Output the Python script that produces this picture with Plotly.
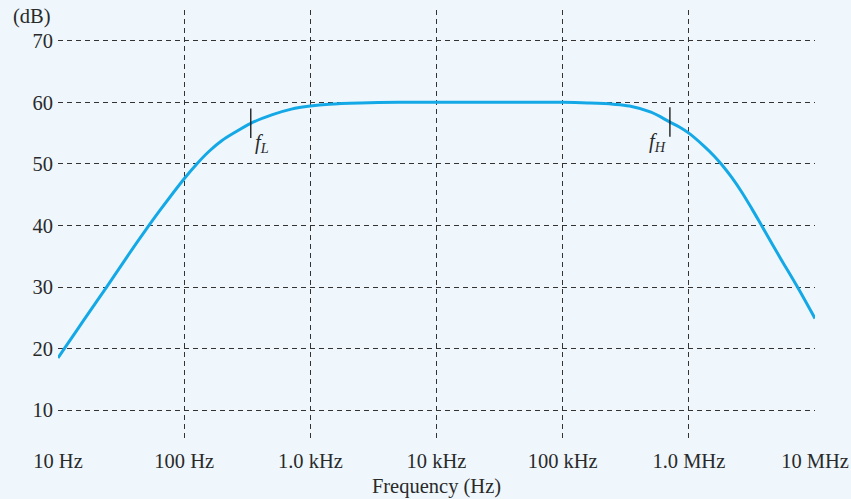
import math
import plotly.graph_objects as go

# Frequency response (Hz, dB)
freq_hz = [10, 11.22, 15.85, 24.27, 35.48, 50.12, 63.97, 100, 125.9, 158.5, 199.5,
           251.2, 337.3, 501.2, 707.9, 1000, 1413, 2512, 5012, 10000, 31623,
           100000, 158489, 251189, 338844, 501187, 707946, 841395, 1000000,
           1318257, 1584893, 1819701, 2187762, 2630268, 3162278, 3723917,
           5248075, 7261490, 10000000]
gain_db = [18.5, 20.0, 24.5, 30.0, 35.0, 39.4, 42.4, 47.6, 50.0, 52.1, 53.8,
           55.1, 56.6, 58.0, 58.9, 59.4, 59.7, 59.9, 60.0, 60.0, 60.0,
           60.0, 59.9, 59.7, 59.4, 58.4, 56.8, 56.0, 55.0,
           52.9, 51.3, 49.9, 47.8, 45.4, 42.7, 40.2,
           34.9, 30.0, 24.9]

x_tickvals = [10, 100, 1000, 10000, 100000, 1000000, 10000000]
x_ticktext = ["10 Hz", "100 Hz", "1.0 kHz", "10 kHz", "100 kHz", "1.0 MHz", "10 MHz"]
y_tickvals = [10, 20, 30, 40, 50, 60, 70]

f_L, f_L_db = 337.3, 56.6
f_H, f_H_db = 707946, 56.8

FONT = "Liberation Serif"
FS = 20.5
BG = "#eff7fd"
GRID = "#333333"
TXT = "#2a2a2a"

fig = go.Figure()
fig.add_trace(go.Scatter(
    x=freq_hz, y=gain_db, mode="lines",
    line=dict(color="#14a9e6", width=3, shape="spline", smoothing=1.0),
    hoverinfo="skip", showlegend=False))
fig.add_trace(go.Scatter(
    x=[f_L, f_H], y=[f_L_db, f_H_db], mode="markers",
    marker=dict(symbol="line-ns", size=21, line=dict(color="#111111", width=1.3)),
    hoverinfo="skip", showlegend=False))

fig.add_annotation(x=math.log10(f_L), y=f_L_db, xref="x", yref="y",
                   text="<i>f</i><sub><i>L</i></sub>", showarrow=False,
                   xanchor="left", yanchor="middle", xshift=2, yshift=-20,
                   font=dict(family=FONT, size=FS, color=TXT))
fig.add_annotation(x=math.log10(f_H), y=f_H_db, xref="x", yref="y",
                   text="<i>f</i><sub><i>H</i></sub>", showarrow=False,
                   xanchor="right", yanchor="middle", xshift=-2, yshift=-20,
                   font=dict(family=FONT, size=FS, color=TXT))
fig.add_annotation(x=0, y=74, xref="paper", yref="y", text="(dB)",
                   showarrow=False, xanchor="right", yanchor="middle", xshift=-5,
                   font=dict(family=FONT, size=FS, color=TXT))

fig.update_xaxes(type="log", range=[1, 7], tickvals=x_tickvals, ticktext=x_ticktext,
                 automargin=False,
                 showgrid=True, gridcolor=GRID, gridwidth=1, griddash="5px,4px",
                 zeroline=False, showline=False, ticks="", ticklabelstandoff=5,
                 tickfont=dict(family=FONT, size=FS, color=TXT),
                 title=dict(text="Frequency (Hz)", standoff=8,
                            font=dict(family=FONT, size=FS, color=TXT)))
fig.update_yaxes(range=[5, 75], tickvals=y_tickvals, automargin=False,
                 showgrid=True, gridcolor=GRID, gridwidth=1, griddash="5px,4px",
                 zeroline=False, showline=False, ticks="", ticklabelstandoff=4,
                 tickfont=dict(family=FONT, size=FS, color=TXT))

fig.update_layout(width=851, height=499, paper_bgcolor=BG, plot_bgcolor=BG,
                  margin=dict(l=58, r=36, t=10, b=58, autoexpand=False),
                  showlegend=False)

fig.write_html("out.html", config={"displayModeBar": False},
               post_script="document.body.style.margin='0';document.body.style.background='%s';" % BG)
